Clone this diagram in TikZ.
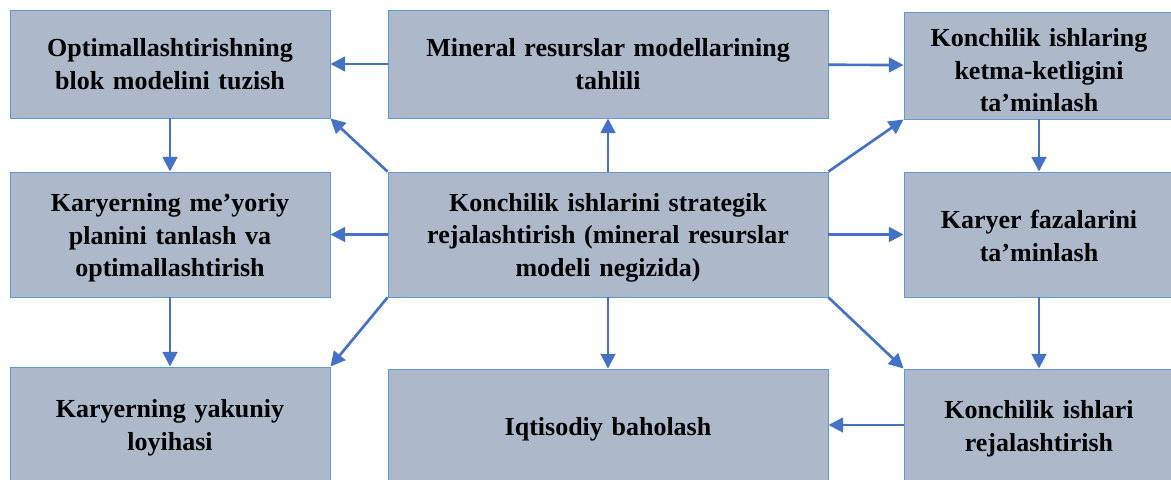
\documentclass[tikz,border=0pt]{standalone}
\usepackage{fontspec}
\setmainfont{Liberation Serif}
\usetikzlibrary{arrows.meta}

\definecolor{boxfill}{HTML}{ADB9CA}
\definecolor{boxline}{HTML}{5B9BD5}
\definecolor{arrowcol}{HTML}{4472C4}

\tikzset{
  blk/.style={draw=boxline,fill=boxfill,line width=0.7pt,align=center,
    inner sep=0pt,font=\fontsize{19.5}{24.4}\selectfont\bfseries},
  lcol/.style={blk,minimum width=240pt,text width=225pt},
  ccol/.style={blk,minimum width=330pt,text width=315pt},
  rcol/.style={blk,minimum width=202.5pt,text width=190pt},
  % taller first line pushes the text down a little
  txtdown/.style={execute at begin node={\rule{0pt}{#1}}},
}

\begin{document}
\begin{tikzpicture}[x=0.75pt,y=-0.75pt,
    ->,>={Triangle[length=11pt,width=11pt]},line width=2pt,draw=arrowcol]
   \useasboundingbox (0,0) rectangle (1171,479);
   \clip (0,0) rectangle (1171,479);
   \node[lcol,minimum height=81pt] (blok) at (170,64) {Optimallashtirishning\\blok modelini tuzish};
   \node[ccol,minimum height=81pt] (tahlil) at (608,64) {Mineral resurslar modellarining\\tahlili};
   \node[rcol,minimum height=80.25pt,txtdown=21pt] (ketma) at (1039,65.5) {Konchilik ishlaring\\ketma-ketligini\\ta’minlash};
   \node[lcol,minimum height=93.75pt,txtdown=18.5pt] (meyor) at (170,234.5) {Karyerning me’yoriy\\planini tanlash va\\optimallashtirish};
   \node[ccol,minimum height=93.75pt,txtdown=18.5pt] (strat) at (608,234.5) {Konchilik ishlarini strategik\\rejalashtirish (mineral resurslar\\modeli negizida)};
   \node[rcol,minimum height=93.75pt,txtdown=16pt] (faza) at (1039,234.5) {Karyer fazalarini\\ta’minlash};
   \node[lcol,minimum height=91.5pt] (loyiha) at (170,428) {Karyerning yakuniy\\loyihasi};
   \node[ccol,minimum height=90pt] (baho) at (608,429) {Iqtisodiy baholash};
   \node[rcol,minimum height=90pt] (rej) at (1039,429) {Konchilik ishlari\\rejalashtirish};
   \path (strat) edge (tahlil);
   \path (strat) edge (baho);
   \path (strat) edge (meyor);
   \path (strat) edge (faza);
   \path (strat.north west) edge (blok.south east);
   \path (strat.north east) edge (ketma.south west);
   \path (strat.south west) edge (loyiha.north east);
   \path (strat.south east) edge (rej.north west);
   \path (tahlil) edge (blok);
   \path (tahlil) edge (ketma);
   \path (blok) edge (meyor);
   \path (meyor) edge (loyiha);
   \path (ketma) edge (faza);
   \path (faza) edge (rej);
   \path ([yshift=3pt]rej.west) edge ([yshift=3pt]baho.east);

\end{tikzpicture}
\end{document}
